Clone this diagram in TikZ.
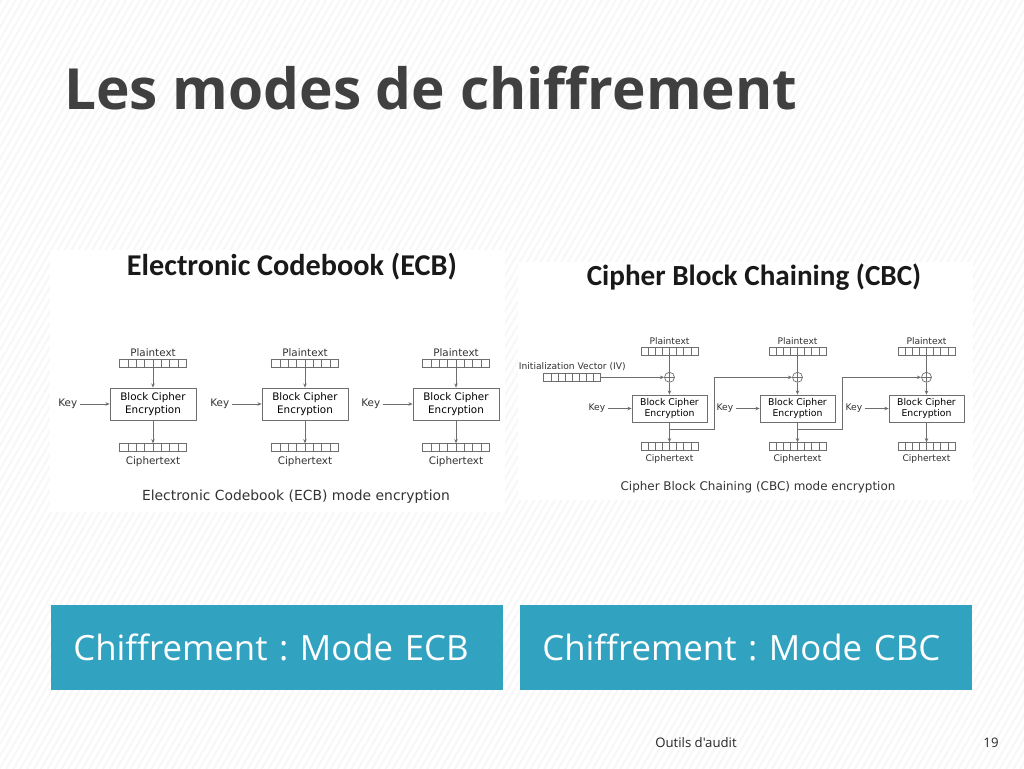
\documentclass[tikz,border=0pt]{standalone}
\usepackage{fontspec}
\setmainfont{Open Sans}
\newfontfamily\plainfont{Open Sans}
\newfontfamily\diagfont{DejaVu Sans}
\newfontfamily\headfont{Carlito}
\usetikzlibrary{arrows.meta, positioning, calc, patterns.meta}
\frenchspacing
\definecolor{barblue}{RGB}{49,162,191}
\definecolor{titlegray}{RGB}{64,64,64}
\definecolor{wiregray}{RGB}{110,110,110}
\tikzset{
    slide/.style={x=0.02cm, y=-0.02cm, >={Stealth[length=2.4pt, width=2pt]}, line width=0.4pt},
    cipher/.style={draw=wiregray, minimum width=1.72cm, minimum height=0.64cm, align=center, inner sep=0pt, font=\diagfont\fontsize{5.9}{7}\selectfont},
    cbcbox/.style={cipher, minimum width=1.5cm, minimum height=0.54cm, font=\diagfont\fontsize{5.3}{6.2}\selectfont},
    register/.style={draw=wiregray, minimum width=#1, minimum height=0.16cm, inner sep=0pt,
        path picture={\foreach \i in {1,...,7}
            \draw[wiregray] ($(path picture bounding box.south west)!{\i/8}!(path picture bounding box.south east)$) -- ($(path picture bounding box.north west)!{\i/8}!(path picture bounding box.north east)$);}},
    register/.default=1.34cm,
    xorsym/.style={circle, draw=wiregray, minimum size=0.2cm, inner sep=0pt,
        path picture={\draw[wiregray] (path picture bounding box.north) -- (path picture bounding box.south) (path picture bounding box.west) -- (path picture bounding box.east);}},
    tag/.style={font=\diagfont\fontsize{5.9}{6.8}\selectfont, text=black!80, inner sep=1.2pt},
    cbctag/.style={tag, font=\diagfont\fontsize{5.2}{6}\selectfont},
    wire/.style={draw=wiregray},
    head/.style={font=\headfont\bfseries\fontsize{17.2}{20}\selectfont, text=black!90},
    bar/.style={fill=barblue, text=white, anchor=north west, minimum width=9.04cm, minimum height=1.7cm, inner xsep=0.44cm, text width=8.16cm, align=left, font=\plainfont\fontsize{19.8}{22}\selectfont},
}
\begin{document}
\begin{tikzpicture}[slide]
    % background
    \fill[white] (0,0) rectangle (1024,768);
    \fill[pattern={Lines[angle=60, distance=3.4pt, line width=1.1pt]}, pattern color=black!3] (0,0) rectangle (1024,768);
    \useasboundingbox (0,0) rectangle (1024,768);

    \node[anchor=west, text=titlegray, font=\bfseries\fontsize{32.3}{36}\selectfont] (title) at (58,88) {Les modes de chiffrement};

    % ECB picture
    \fill[white] (50,250) rectangle (505,512);
    \node[head] (ecbhead) at (292,267) {Electronic Codebook (ECB)};
    \node[cipher] (e1) at (153,404) {Block Cipher\\Encryption};
    \node[cipher] (e2) at (305,404) {Block Cipher\\Encryption};
    \node[cipher] (e3) at (456,404) {Block Cipher\\Encryption};
    \node[register, above=0.4cm of e1] (e1p) {};
    \node[register, above=0.4cm of e2] (e2p) {};
    \node[register, above=0.4cm of e3] (e3p) {};
    \node[register, below=0.46cm of e1] (e1c) {};
    \node[register, below=0.46cm of e2] (e2c) {};
    \node[register, below=0.46cm of e3] (e3c) {};
    \node[tag, above=0cm of e1p] (e1pt) {Plaintext};
    \node[tag, above=0cm of e2p] (e2pt) {Plaintext};
    \node[tag, above=0cm of e3p] (e3pt) {Plaintext};
    \node[tag, below=0.04cm of e1c] (e1ct) {Ciphertext};
    \node[tag, below=0.04cm of e2c] (e2ct) {Ciphertext};
    \node[tag, below=0.04cm of e3c] (e3ct) {Ciphertext};
    \node[tag, left=0.6cm of e1] (e1k) {Key};
    \node[tag, left=0.6cm of e2] (e2k) {Key};
    \node[tag, left=0.6cm of e3] (e3k) {Key};
    \node[tag, font=\diagfont\fontsize{7.9}{9}\selectfont] (ecbcap) at (296,497) {Electronic Codebook (ECB) mode encryption};

    \draw[wire, ->] (e1p) -- (e1);
    \draw[wire, ->] (e2p) -- (e2);
    \draw[wire, ->] (e3p) -- (e3);
    \draw[wire, ->] (e1) -- (e1c);
    \draw[wire, ->] (e2) -- (e2c);
    \draw[wire, ->] (e3) -- (e3c);
    \draw[wire, ->] (e1k) -- (e1);
    \draw[wire, ->] (e2k) -- (e2);
    \draw[wire, ->] (e3k) -- (e3);

    % CBC picture
    \fill[white] (518,262) rectangle (973,500);
    \node[head, font=\headfont\bfseries\fontsize{16.6}{20}\selectfont] (cbchead) at (754,277) {Cipher Block Chaining (CBC)};
    \node[cbcbox] (c1) at (669.5,408.5) {Block Cipher\\Encryption};
    \node[cbcbox] (c2) at (797.5,408.5) {Block Cipher\\Encryption};
    \node[cbcbox] (c3) at (926.5,408.5) {Block Cipher\\Encryption};
    \node[xorsym, above=0.24cm of c1] (x1) {};
    \node[xorsym, above=0.24cm of c2] (x2) {};
    \node[xorsym, above=0.24cm of c3] (x3) {};
    \node[register=1.14cm, above=0.32cm of x1] (c1p) {};
    \node[register=1.14cm, above=0.32cm of x2] (c2p) {};
    \node[register=1.14cm, above=0.32cm of x3] (c3p) {};
    \node[register=1.14cm, below=0.4cm of c1] (c1c) {};
    \node[register=1.14cm, below=0.4cm of c2] (c2c) {};
    \node[register=1.14cm, below=0.4cm of c3] (c3c) {};
    \node[cbctag, above=0cm of c1p] (c1pt) {Plaintext};
    \node[cbctag, above=0cm of c2p] (c2pt) {Plaintext};
    \node[cbctag, above=0cm of c3p] (c3pt) {Plaintext};
    \node[cbctag, below=0.02cm of c1c] (c1ct) {Ciphertext};
    \node[cbctag, below=0.02cm of c2c] (c2ct) {Ciphertext};
    \node[cbctag, below=0.02cm of c3c] (c3ct) {Ciphertext};
    \node[cbctag, left=0.48cm of c1] (c1k) {Key};
    \node[cbctag, left=0.48cm of c2] (c2k) {Key};
    \node[cbctag, left=0.48cm of c3] (c3k) {Key};
    \node[register=1.14cm, left=1.26cm of x1] (iv) {};
    \node[cbctag, above=0cm of iv] (ivt) {Initialization Vector (IV)};
    \node[tag, font=\diagfont\fontsize{6.8}{8}\selectfont] (cbccap) at (758,487) {Cipher Block Chaining (CBC) mode encryption};

    \draw[wire] (c1p) -- (x1);
    \draw[wire] (c2p) -- (x2);
    \draw[wire] (c3p) -- (x3);
    \draw[wire, ->] (x1) -- (c1);
    \draw[wire, ->] (x2) -- (c2);
    \draw[wire, ->] (x3) -- (c3);
    \draw[wire, ->] (c1) -- (c1c);
    \draw[wire, ->] (c2) -- (c2c);
    \draw[wire, ->] (c3) -- (c3c);
    \draw[wire, ->] (c1k) -- (c1);
    \draw[wire, ->] (c2k) -- (c2);
    \draw[wire, ->] (c3k) -- (c3);
    \draw[wire, ->] (iv) -- (x1);

    % chaining into the next block
    \coordinate (j1) at ($(c1.south)!0.35!(c1c.north)$);
    \coordinate (j2) at ($(c2.south)!0.35!(c2c.north)$);
    \coordinate (t1) at ($(c1.east |- x2)+(7,0)$);
    \coordinate (t2) at ($(c2.east |- x3)+(7,0)$);
    \draw[wire, ->] (j1) -| (t1) -- (x2);
    \draw[wire, ->] (j2) -| (t2) -- (x3);

    % captions under the pictures
    \node[bar] (ecbbar) at (51,605) {Chiffrement : Mode ECB};
    \node[bar] (cbcbar) at (520,605) {Chiffrement : Mode CBC};

    \node[font=\plainfont\fontsize{7.5}{9}\selectfont, text=black!85] (foot) at (696,743) {Outils d'audit};
    \node[font=\plainfont\fontsize{7.5}{9}\selectfont, text=black!85] (page) at (991,743) {19};
\end{tikzpicture}
\end{document}
